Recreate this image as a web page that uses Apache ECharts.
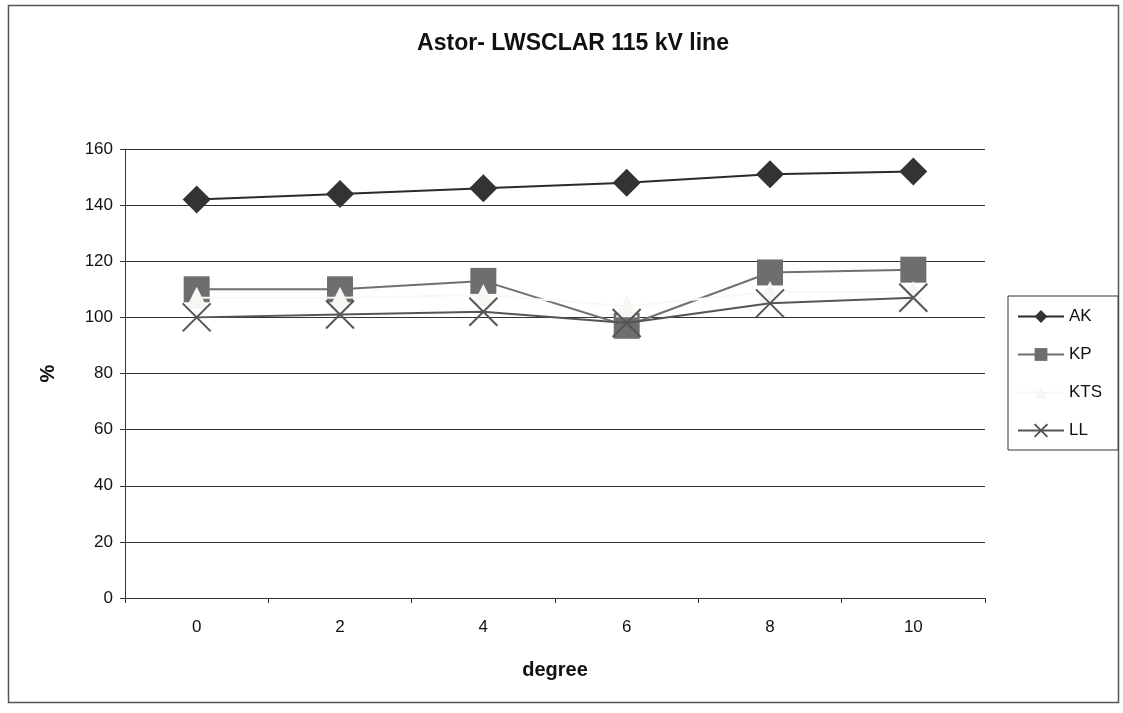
<!DOCTYPE html>
<html>
<head>
<meta charset="utf-8">
<script src="https://cdn.jsdelivr.net/npm/echarts@6/dist/echarts.min.js"></script>
<style>
  html, body { margin: 0; padding: 0; background: #ffffff; }
  #chart { width: 1123px; height: 713px; }
</style>
</head>
<body>
<div id="chart"></div>
<script>
// Category axis (degree) and y-axis range
const degrees = ['0', '2', '4', '6', '8', '10'];
const yMin = 0;
const yMax = 160;
const yStep = 20;

// Series values (%)
const akValues  = [142, 144, 146, 148, 151, 152];
const kpValues  = [110, 110, 113, 97, 116, 117];
const ktsValues = [107, 107, 108, 104, 109, 109];
const llValues  = [100, 101, 102, 98, 105, 107];

const FONT = '"Liberation Sans", Arial, sans-serif';
const X_PATH = 'path://M0,0L10,10M10,0L0,10';

const chart = echarts.init(document.getElementById('chart'), null, { renderer: 'canvas' });

chart.setOption({
  backgroundColor: '#ffffff',
  animation: false,
  textStyle: { fontFamily: FONT, color: '#111' },
  title: {
    text: 'Astor- LWSCLAR 115 kV line',
    left: 568,
    top: 27,
    textAlign: 'center',
    textStyle: { fontFamily: FONT, fontSize: 23, fontWeight: 'bold', color: '#111' }
  },
  graphic: [{
    type: 'rect',
    shape: { x: 8.5, y: 5.5, width: 1110, height: 697 },
    style: { fill: 'none', stroke: '#555', lineWidth: 1.5 },
    silent: true,
    z: -1
  }],
  legend: {
    orient: 'vertical',
    left: 1008,
    top: 296,
    padding: [12, 16, 11, 9],
    itemGap: 21,
    itemWidth: 46,
    itemHeight: 16,
    borderColor: '#333',
    borderWidth: 1,
    backgroundColor: '#fff',
    textStyle: { fontFamily: FONT, fontSize: 17, color: '#111' },
    data: ['AK', 'KP', 'KTS', 'LL']
  },
  grid: { left: 125, top: 149, width: 860, height: 449, containLabel: false },
  xAxis: {
    type: 'category',
    data: degrees,
    boundaryGap: true,
    name: 'degree',
    nameLocation: 'middle',
    nameGap: 62,
    nameTextStyle: { fontFamily: FONT, fontSize: 20, fontWeight: 'bold', color: '#111' },
    axisLine: { lineStyle: { color: '#333', width: 1 } },
    axisTick: { show: true, alignWithLabel: false, length: 5, lineStyle: { color: '#333' } },
    axisLabel: { fontFamily: FONT, fontSize: 17, color: '#111', margin: 21 },
    splitLine: { show: false }
  },
  yAxis: {
    type: 'value',
    min: yMin,
    max: yMax,
    interval: yStep,
    name: '%',
    nameLocation: 'middle',
    nameGap: 67,
    nameRotate: 90,
    nameTextStyle: { fontFamily: FONT, fontSize: 20, fontWeight: 'bold', color: '#111' },
    axisLine: { show: true, lineStyle: { color: '#333', width: 1 } },
    axisTick: { show: true, length: 5, lineStyle: { color: '#333' } },
    axisLabel: { fontFamily: FONT, fontSize: 17, color: '#111', margin: 12 },
    splitLine: { show: true, lineStyle: { color: '#333', width: 1 } }
  },
  series: [
    {
      name: 'AK',
      type: 'line',
      data: akValues,
      symbol: 'diamond',
      symbolSize: 28,
      lineStyle: { color: '#2a2a2a', width: 2 },
      itemStyle: { color: '#333333' },
      z: 4
    },
    {
      name: 'KP',
      type: 'line',
      data: kpValues,
      symbol: 'rect',
      symbolSize: 26,
      lineStyle: { color: '#707070', width: 2 },
      itemStyle: { color: '#6e6e6e' },
      z: 3
    },
    {
      name: 'KTS',
      type: 'line',
      data: ktsValues,
      symbol: 'triangle',
      symbolSize: 22,
      lineStyle: { color: '#f8f8f4', width: 2 },
      itemStyle: { color: '#f6f6f2' },
      z: 5
    },
    {
      name: 'LL',
      type: 'line',
      data: llValues,
      symbol: X_PATH,
      symbolSize: 28,
      symbolKeepAspect: true,
      lineStyle: { color: '#555555', width: 2 },
      itemStyle: { color: 'transparent', borderColor: '#555555', borderWidth: 2 },
      z: 6
    }
  ]
});
</script>
</body>
</html>
